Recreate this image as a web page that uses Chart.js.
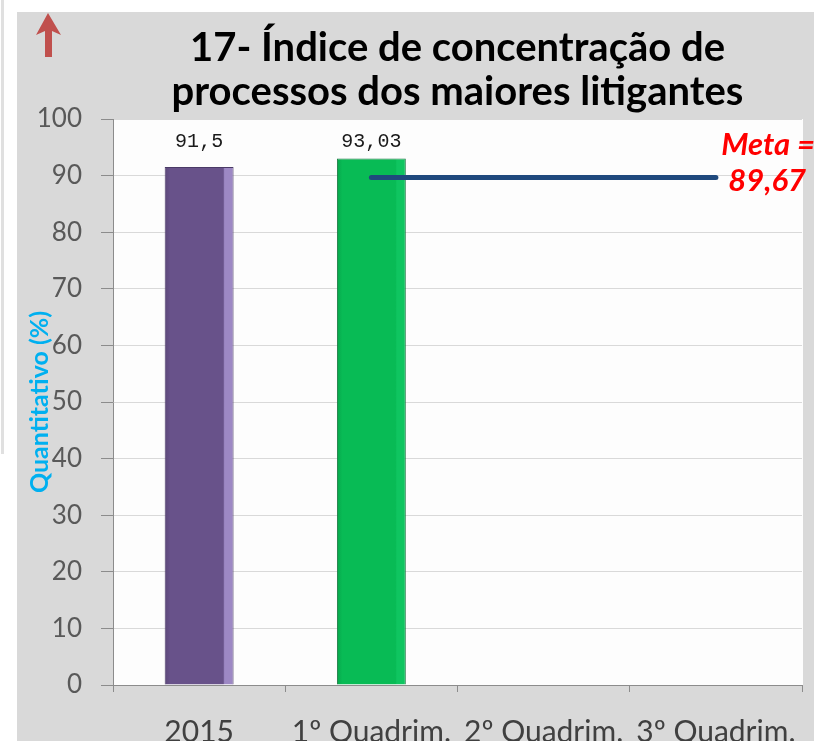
<!DOCTYPE html>
<html>
<head>
<meta charset="utf-8">
<script src="https://cdn.jsdelivr.net/npm/chart.js@4.4.1/dist/chart.umd.min.js"></script>
<style>
  html, body { margin: 0; padding: 0; background: #fff; }
  canvas { display: block; }
</style>
</head>
<body>
<canvas id="chart" width="814" height="741"></canvas>
<script>
// chart data
const categories = ['2015', '1º Quadrim.', '2º Quadrim.', '3º Quadrim.'];
const values = [91.5, 93.03, null, null];
const metaValue = 89.67;
const metaLine = [null, metaValue, metaValue, metaValue];
const titleLines = ['17- Índice de concentração de', 'processos dos maiores litigantes'];
const yTitle = 'Quantitativo (%)';

const fmt = (v) => String(v).replace('.', ',');

// panel background, plot area and the little red arrow
const backdrop = {
  id: 'backdrop',
  beforeDraw(chart) {
    const { ctx, chartArea: a } = chart;
    ctx.save();
    ctx.fillStyle = '#ffffff';
    ctx.fillRect(0, 0, chart.width, chart.height);
    ctx.fillStyle = '#e0e0e0';
    ctx.fillRect(1, 0, 3, 454);
    ctx.fillStyle = '#d9d9d9';
    ctx.fillRect(17, 12, chart.width - 17, chart.height - 12);
    ctx.fillStyle = '#fdfdfd';
    ctx.fillRect(a.left, a.top, a.right - a.left + 1, a.bottom - a.top);
    // arrow
    ctx.fillStyle = '#c0504d';
    ctx.beginPath();
    ctx.moveTo(48, 13);
    ctx.lineTo(61, 35);
    ctx.lineTo(52, 31);
    ctx.lineTo(52, 57);
    ctx.lineTo(45, 57);
    ctx.lineTo(45, 31);
    ctx.lineTo(36, 35);
    ctx.closePath();
    ctx.fill();
    ctx.restore();
  },
};

// value labels over the bars and the "Meta" note
const labels = {
  id: 'labels',
  afterDatasetsDraw(chart) {
    const { ctx, chartArea: a } = chart;
    const meta = chart.getDatasetMeta(1);
    ctx.save();
    ctx.font = '20px "Liberation Mono", monospace';
    ctx.fillStyle = '#1a1a1a';
    ctx.textAlign = 'center';
    ctx.textBaseline = 'middle';
    meta.data.forEach((el, i) => {
      if (values[i] == null) return;
      ctx.fillText(fmt(values[i]), el.x, a.top + 23);
    });
    const y = chart.scales.y.getPixelForValue(metaValue);
    ctx.font = 'italic bold 31px Lato';
    ctx.fillStyle = '#ff0000';
    ctx.textAlign = 'right';
    ctx.fillText('Meta =', 815, y - 32);
    ctx.fillText(fmt(metaValue), 806, y + 4);
    ctx.restore();
  },
};

// flat fill with a lighter bevel strip on the right, like the original
function barFill(ctx) {
  const chart = ctx.chart;
  const base = ctx.dataIndex === 0 ? ['#5c4879', '#68528a', '#9d88c4'] : ['#07a64b', '#08bb55', '#0fc560'];
  const xs = chart.scales && chart.scales.x;
  if (!xs || !chart.chartArea) return base[1];
  const cx = xs.getPixelForValue(ctx.dataIndex);
  const w = (chart.chartArea.right - chart.chartArea.left) / categories.length * 0.4;
  const x0 = cx - w / 2;
  const g = chart.ctx.createLinearGradient(x0, 0, x0 + w, 0);
  g.addColorStop(0, base[0]);
  g.addColorStop(0.08, base[1]);
  g.addColorStop(0.85, base[1]);
  g.addColorStop(0.87, base[2]);
  g.addColorStop(1, base[2]);
  return g;
}

new Chart(document.getElementById('chart'), {
  data: {
    labels: categories,
    datasets: [
      {
        type: 'line',
        data: metaLine,
        borderColor: '#1f497d',
        borderWidth: 5,
        borderCapStyle: 'round',
        pointRadius: 0,
        order: 0,
      },
      {
        type: 'bar',
        data: values,
        backgroundColor: barFill,
        borderColor: ['#4a3a66', '#1d7a45', '#000', '#000'],
        borderWidth: 1,
        barPercentage: 0.4,
        categoryPercentage: 1,
        order: 1,
      },
    ],
  },
  options: {
    responsive: false,
    animation: false,
    layout: { padding: { left: 0, right: 12, top: 0, bottom: 0 } },
    plugins: {
      legend: { display: false },
      tooltip: { enabled: false },
      title: {
        display: true,
        text: titleLines,
        fullSize: false,
        color: '#000000',
        font: { family: 'Lato', size: 40, weight: 'bold', lineHeight: 1.1 },
        padding: { top: 26, bottom: 5 },
      },
    },
    scales: {
      x: {
        offset: true,
        grid: { offset: true, drawOnChartArea: false, drawTicks: true, tickLength: 7, tickColor: '#8c8c8c' },
        border: { color: '#8c8c8c', width: 1 },
        ticks: { color: '#404040', padding: 22, font: { family: 'Lato', size: 30 } },
        afterFit(s) { s.height = 56; s.paddingLeft = 0; s.paddingRight = 0; },
      },
      y: {
        min: 0,
        max: 100,
        ticks: { stepSize: 10, color: '#595959', padding: 19, font: { family: 'Lato', size: 26 } },
        grid: { color: '#d9d9d9', tickLength: 12, tickColor: '#8c8c8c' },
        border: { color: '#8c8c8c', width: 1 },
        title: {
          display: true,
          text: yTitle,
          color: '#00b0f0',
          font: { family: 'Lato', size: 25, weight: 'bold' },
          padding: { top: 25 },
        },
        afterFit(s) { s.width = 113; },
      },
    },
  },
  plugins: [backdrop, labels],
});
</script>
</body>
</html>
